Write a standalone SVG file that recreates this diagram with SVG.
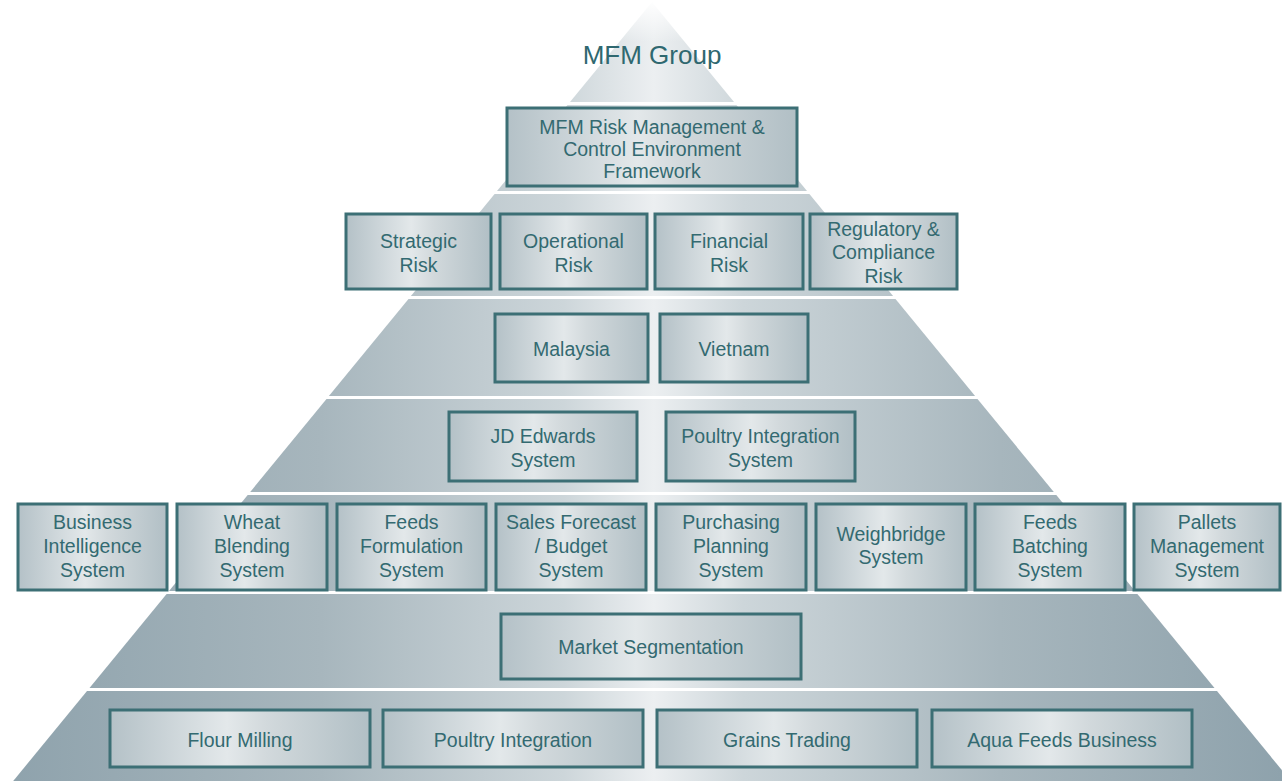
<svg xmlns="http://www.w3.org/2000/svg" width="1282" height="781" viewBox="0 0 1282 781">
  <defs>
    <!-- brushed-metal shading across the pyramid -->
    <linearGradient id="bandShade" gradientUnits="userSpaceOnUse" x1="0" y1="0" x2="1282" y2="0">
      <stop offset="0" stop-color="#8ea2ac"/>
      <stop offset="0.25" stop-color="#a7b6bd"/>
      <stop offset="0.44" stop-color="#cdd6da"/>
      <stop offset="0.51" stop-color="#eceff1"/>
      <stop offset="0.58" stop-color="#cdd6da"/>
      <stop offset="0.78" stop-color="#a7b6bd"/>
      <stop offset="1" stop-color="#8ea2ac"/>
    </linearGradient>
    <linearGradient id="boxShade" x1="0" y1="0" x2="1" y2="0">
      <stop offset="0" stop-color="#b4c1c7"/>
      <stop offset="0.45" stop-color="#e3e8ea"/>
      <stop offset="0.6" stop-color="#d2d9dc"/>
      <stop offset="1" stop-color="#b1bfc5"/>
    </linearGradient>
    <linearGradient id="apexFade" x1="0" y1="0" x2="0" y2="1">
      <stop offset="0" stop-color="#ffffff" stop-opacity="1"/>
      <stop offset="1" stop-color="#ffffff" stop-opacity="0"/>
    </linearGradient>
    <style>
      .band { fill: url(#bandShade); }
      .box { fill: url(#boxShade); stroke: #3c6f75; stroke-width: 3; }
      .lbl { font-family: "Liberation Sans", Arial, sans-serif; font-size: 19.5px; fill: #336a71; text-anchor: middle; }
      .title { font-family: "Liberation Sans", Arial, sans-serif; font-size: 26px; fill: #2f6870; text-anchor: middle; }
    </style>
  </defs>

  <rect width="1282" height="781" fill="#ffffff"/>

  <!-- pyramid bands, separated by thin white gaps -->
  <g id="pyramid">
    <polygon class="band" points="652,2 734,102 570,102"/>
    <polygon class="band" points="567.5,105 736.5,105 807,191 497,191"/>
    <polygon class="band" points="494.6,194 809.4,194 893.1,296 410.9,296"/>
    <polygon class="band" points="408.5,299 895.5,299 975.1,396 328.9,396"/>
    <polygon class="band" points="326.5,399 977.5,399 1053.8,492 250.2,492"/>
    <polygon class="band" points="247.7,495 1056.3,495 1135,591 169,591"/>
    <polygon class="band" points="166.6,594 1137.4,594 1214.5,688 89.5,688"/>
    <polygon class="band" points="87,691 1217,691 1290.8,781 13.2,781"/>
    <rect x="560" y="0" width="185" height="42" fill="url(#apexFade)"/>
  </g>

  <g id="title">
    <text class="title" x="652" y="64">MFM Group</text>
  </g>

  <g id="framework">
    <rect class="box" x="507" y="108" width="290" height="78"/>
    <text class="lbl" x="652" y="134">MFM Risk Management &amp;</text>
    <text class="lbl" x="652" y="156">Control Environment</text>
    <text class="lbl" x="652" y="178">Framework</text>
  </g>

  <g id="strategic-risk">
    <rect class="box" x="346" y="214" width="145" height="75"/>
    <text class="lbl" x="418.5" y="248">Strategic</text>
    <text class="lbl" x="418.5" y="272">Risk</text>
  </g>
  <g id="operational-risk">
    <rect class="box" x="500" y="214" width="147" height="75"/>
    <text class="lbl" x="573.5" y="248">Operational</text>
    <text class="lbl" x="573.5" y="272">Risk</text>
  </g>
  <g id="financial-risk">
    <rect class="box" x="655" y="214" width="148" height="75"/>
    <text class="lbl" x="729" y="248">Financial</text>
    <text class="lbl" x="729" y="272">Risk</text>
  </g>
  <g id="regulatory-risk">
    <rect class="box" x="810" y="214" width="147" height="75"/>
    <text class="lbl" x="883.5" y="236">Regulatory &amp;</text>
    <text class="lbl" x="883.5" y="259">Compliance</text>
    <text class="lbl" x="883.5" y="283">Risk</text>
  </g>

  <g id="malaysia">
    <rect class="box" x="495" y="314" width="153" height="68"/>
    <text class="lbl" x="571.5" y="356">Malaysia</text>
  </g>
  <g id="vietnam">
    <rect class="box" x="660" y="314" width="148" height="68"/>
    <text class="lbl" x="734" y="356">Vietnam</text>
  </g>

  <g id="jd-edwards">
    <rect class="box" x="449" y="412" width="188" height="69"/>
    <text class="lbl" x="543" y="443">JD Edwards</text>
    <text class="lbl" x="543" y="467">System</text>
  </g>
  <g id="poultry-integration-system">
    <rect class="box" x="666" y="412" width="189" height="69"/>
    <text class="lbl" x="760.5" y="443">Poultry Integration</text>
    <text class="lbl" x="760.5" y="467">System</text>
  </g>

  <g id="business-intelligence">
    <rect class="box" x="18" y="504" width="149" height="86"/>
    <text class="lbl" x="92.5" y="529">Business</text>
    <text class="lbl" x="92.5" y="553">Intelligence</text>
    <text class="lbl" x="92.5" y="577">System</text>
  </g>
  <g id="wheat-blending">
    <rect class="box" x="177" y="504" width="150" height="86"/>
    <text class="lbl" x="252" y="529">Wheat</text>
    <text class="lbl" x="252" y="553">Blending</text>
    <text class="lbl" x="252" y="577">System</text>
  </g>
  <g id="feeds-formulation">
    <rect class="box" x="337" y="504" width="149" height="86"/>
    <text class="lbl" x="411.5" y="529">Feeds</text>
    <text class="lbl" x="411.5" y="553">Formulation</text>
    <text class="lbl" x="411.5" y="577">System</text>
  </g>
  <g id="sales-forecast">
    <rect class="box" x="496" y="504" width="150" height="86"/>
    <text class="lbl" x="571" y="529">Sales Forecast</text>
    <text class="lbl" x="571" y="553">/ Budget</text>
    <text class="lbl" x="571" y="577">System</text>
  </g>
  <g id="purchasing-planning">
    <rect class="box" x="656" y="504" width="150" height="86"/>
    <text class="lbl" x="731" y="529">Purchasing</text>
    <text class="lbl" x="731" y="553">Planning</text>
    <text class="lbl" x="731" y="577">System</text>
  </g>
  <g id="weighbridge">
    <rect class="box" x="816" y="504" width="150" height="86"/>
    <text class="lbl" x="891" y="541">Weighbridge</text>
    <text class="lbl" x="891" y="564">System</text>
  </g>
  <g id="feeds-batching">
    <rect class="box" x="975" y="504" width="150" height="86"/>
    <text class="lbl" x="1050" y="529">Feeds</text>
    <text class="lbl" x="1050" y="553">Batching</text>
    <text class="lbl" x="1050" y="577">System</text>
  </g>
  <g id="pallets-management">
    <rect class="box" x="1134" y="504" width="146" height="86"/>
    <text class="lbl" x="1207" y="529">Pallets</text>
    <text class="lbl" x="1207" y="553">Management</text>
    <text class="lbl" x="1207" y="577">System</text>
  </g>

  <g id="market-segmentation">
    <rect class="box" x="501" y="614" width="300" height="65"/>
    <text class="lbl" x="651" y="654">Market Segmentation</text>
  </g>

  <g id="flour-milling">
    <rect class="box" x="110" y="710" width="260" height="57"/>
    <text class="lbl" x="240" y="747">Flour Milling</text>
  </g>
  <g id="poultry-integration">
    <rect class="box" x="383" y="710" width="260" height="57"/>
    <text class="lbl" x="513" y="747">Poultry Integration</text>
  </g>
  <g id="grains-trading">
    <rect class="box" x="657" y="710" width="260" height="57"/>
    <text class="lbl" x="787" y="747">Grains Trading</text>
  </g>
  <g id="aqua-feeds">
    <rect class="box" x="932" y="710" width="260" height="57"/>
    <text class="lbl" x="1062" y="747">Aqua Feeds Business</text>
  </g>

  <!-- the layers are stacked, not linked: no connector lines -->
  <g id="connectors"/>
</svg>
